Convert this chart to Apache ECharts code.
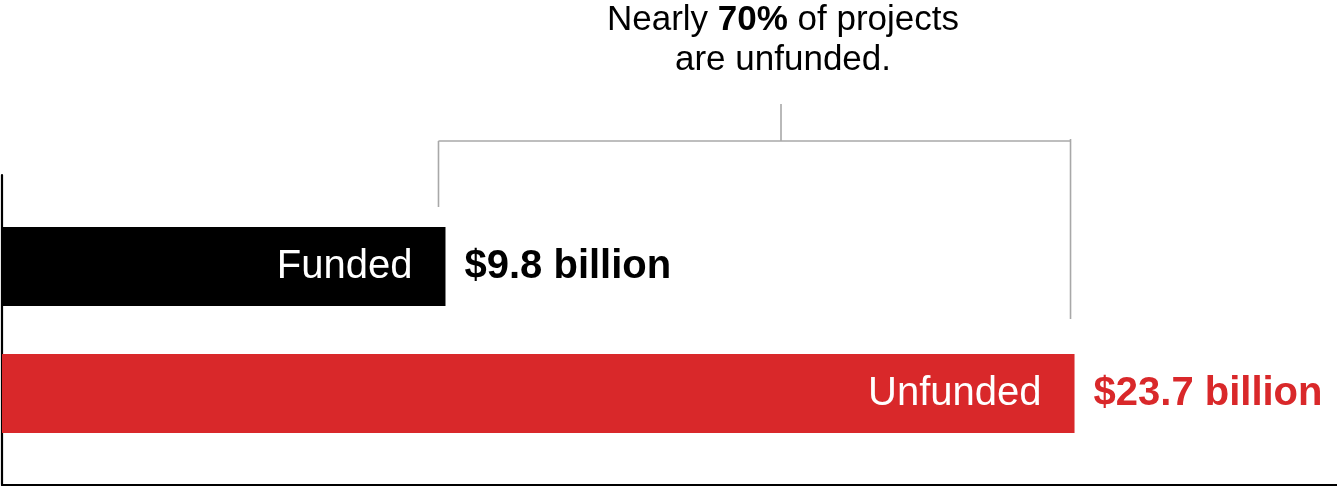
<!DOCTYPE html>
<html>
<head>
<meta charset="utf-8">
<script src="https://cdn.jsdelivr.net/npm/echarts@6/dist/echarts.min.js"></script>
<style>
  html, body { margin: 0; padding: 0; background: #fff; }
  #chart { width: 1337px; height: 486px; }
</style>
</head>
<body>
<div id="chart"></div>
<script>
// Funding status of projects, in billions of dollars
const categories = ['Funded', 'Unfunded'];
const values = [9.8, 23.7];
const valueLabels = ['$9.8 billion', '$23.7 billion'];
const barColors = ['#000000', '#d9282a'];
const headlineLine1 = ['Nearly ', '70%', ' of projects'];
const headlineLine2 = 'are unfunded.';

const FONT = '"Liberation Sans", Arial, Helvetica, sans-serif';
const BRACKET_COLOR = '#a8a8a8';

const chart = echarts.init(document.getElementById('chart'), null, { renderer: 'canvas' });

const option = {
  animation: false,
  backgroundColor: '#ffffff',
  grid: [
    // bars
    { left: 2, right: 0, top: 203, height: 254, containLabel: false },
    // frame axes (left and bottom rules)
    { left: 2, right: 0, top: 175, bottom: 1.5, containLabel: false }
  ],
  xAxis: [
    {
      gridIndex: 0, type: 'value', min: 0, max: 29.5, show: false
    },
    {
      gridIndex: 1, type: 'value', min: 0, max: 1,
      axisLine: { show: true, lineStyle: { color: '#000', width: 2.2 } },
      axisTick: { show: false }, axisLabel: { show: false }, splitLine: { show: false }
    }
  ],
  yAxis: [
    {
      gridIndex: 0, type: 'category', inverse: true, data: categories,
      axisLine: { show: false }, axisTick: { show: false }, axisLabel: { show: false },
      splitLine: { show: false }
    },
    {
      gridIndex: 1, type: 'value', min: 0, max: 1,
      axisLine: { show: true, lineStyle: { color: '#000', width: 2.2 } },
      axisTick: { show: false }, axisLabel: { show: false }, splitLine: { show: false }
    }
  ],
  series: [
    {
      type: 'bar',
      xAxisIndex: 0, yAxisIndex: 0,
      barWidth: 79,
      data: values.map((v, i) => ({ value: v, itemStyle: { color: barColors[i] } })),
      label: {
        show: true,
        position: 'insideRight',
        distance: 33,
        formatter: '{b}',
        color: '#ffffff',
        fontFamily: FONT,
        fontSize: 40,
        fontWeight: 'normal'
      },
      silent: true
    },
    {
      type: 'bar',
      xAxisIndex: 0, yAxisIndex: 0,
      barWidth: 79,
      barGap: '-100%',
      data: values.map((v, i) => ({
        value: v,
        itemStyle: { color: 'rgba(0,0,0,0)' },
        label: { color: barColors[i] }
      })),
      label: {
        show: true,
        position: 'right',
        distance: 19,
        formatter: p => valueLabels[p.dataIndex],
        fontFamily: FONT,
        fontSize: 40,
        fontWeight: 'bold'
      },
      silent: true
    }
  ]
};

chart.setOption(option);

// Bracket spanning the unfunded share, with the headline above it
const xLeft = chart.convertToPixel({ xAxisIndex: 0 }, values[0]) - 7;
const xRight = chart.convertToPixel({ xAxisIndex: 0 }, values[1]) - 4;
const xTick = 781;
const yTop = 141;
const lineStyle = { stroke: BRACKET_COLOR, lineWidth: 1.6 };

chart.setOption({
  graphic: [
    { type: 'line', shape: { x1: xLeft, y1: yTop, x2: xRight, y2: yTop }, style: lineStyle, silent: true },
    { type: 'line', shape: { x1: xLeft, y1: yTop, x2: xLeft, y2: 207 }, style: lineStyle, silent: true },
    { type: 'line', shape: { x1: xRight, y1: 139, x2: xRight, y2: 319 }, style: lineStyle, silent: true },
    { type: 'line', shape: { x1: xTick, y1: 104, x2: xTick, y2: yTop }, style: lineStyle, silent: true },
    {
      type: 'text',
      x: 783,
      y: 0,
      silent: true,
      style: {
        text: '{n|' + headlineLine1[0] + '}{b|' + headlineLine1[1] + '}{n|' + headlineLine1[2] + '}\n{n|' + headlineLine2 + '}',
        align: 'center',
        verticalAlign: 'top',
        fill: '#000',
        rich: {
          n: { fontFamily: FONT, fontSize: 35, fontWeight: 'normal', lineHeight: 40, fill: '#000' },
          b: { fontFamily: FONT, fontSize: 35, fontWeight: 'bold', lineHeight: 40, fill: '#000' }
        }
      }
    }
  ]
});
</script>
</body>
</html>
